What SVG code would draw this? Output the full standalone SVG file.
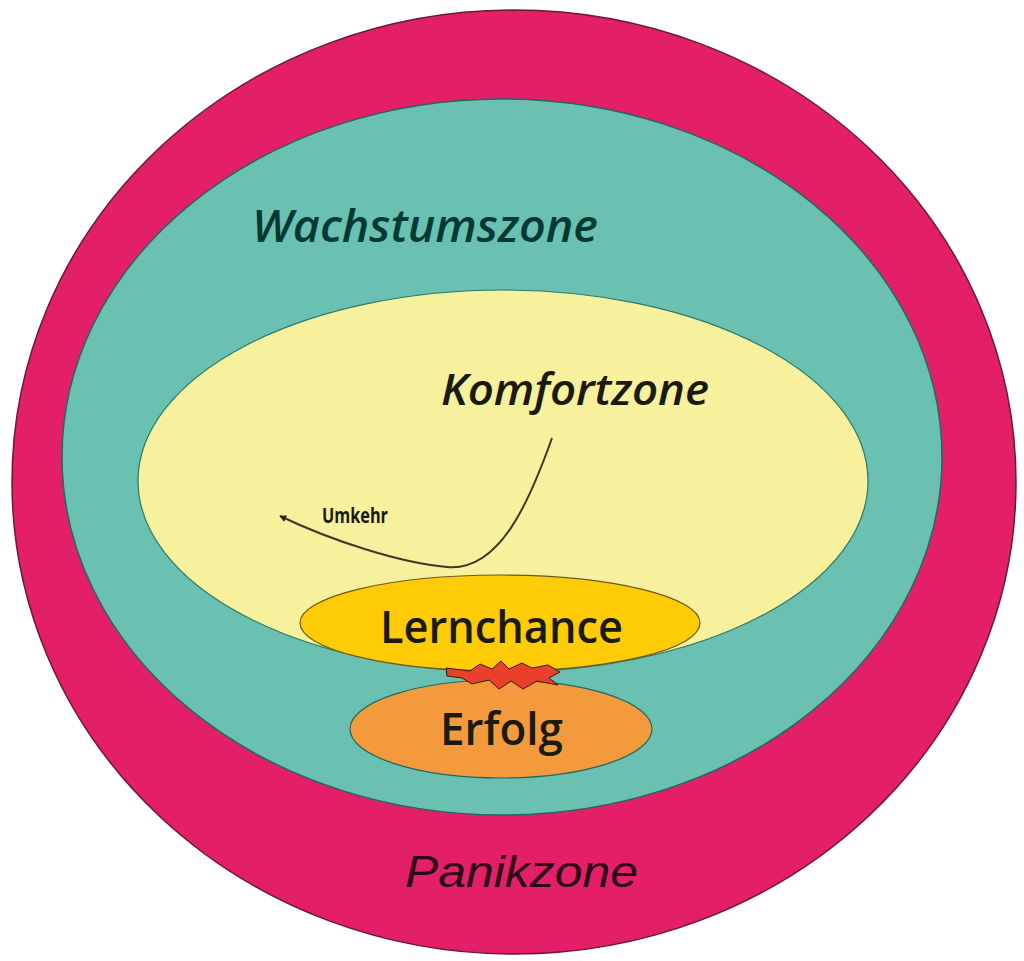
<svg xmlns="http://www.w3.org/2000/svg" width="1024" height="961" viewBox="0 0 1024 961">
<style>
.zone{font-family:"Open Sans","DejaVu Sans",sans-serif;font-style:italic;font-weight:600}
.lbl{font-family:"Open Sans","DejaVu Sans",sans-serif;font-weight:600;fill:#1a1a10}
</style>
<defs>
<marker id="ah" viewBox="0 0 10 10" refX="9" refY="5" markerWidth="7" markerHeight="7" orient="auto-start-reverse" markerUnits="userSpaceOnUse">
<path d="M0,0 L10,5 L0,10 z" fill="#2a2a1a"/>
</marker>
</defs>
<rect width="1024" height="961" fill="#ffffff"/>
<g id="panikzone">
<ellipse cx="514" cy="482" rx="502" ry="472" fill="#e31f68" stroke="#6a1836" stroke-width="1.5"/>
<text class="zone" x="405" y="887" font-family="Liberation Sans" style="font-family:'Liberation Sans',Arial,sans-serif;font-weight:400" font-size="44" fill="#2a0816" textLength="233" lengthAdjust="spacingAndGlyphs">Panikzone</text>
</g>
<g id="wachstumszone">
<ellipse cx="502" cy="457" rx="440" ry="358" fill="#6bc1b1" stroke="#1f6a60" stroke-width="1.5"/>
<text class="zone" x="252" y="242" font-size="46" fill="#003a32" textLength="346" lengthAdjust="spacingAndGlyphs">Wachstumszone</text>
</g>
<g id="komfortzone">
<ellipse cx="503" cy="481" rx="365" ry="191" fill="#f7f09c" stroke="#2a7a6a" stroke-width="1.2"/>
<text class="zone" x="441" y="405" font-size="44" fill="#1a1a10" textLength="268" lengthAdjust="spacingAndGlyphs">Komfortzone</text>
</g>
<g id="connectors">
<path d="M552,438 C530,500 500,572 447,567 C400,563 330,540 280,516" fill="none" stroke="#3a3a28" stroke-width="2" marker-end="url(#ah)"/>
<text x="322" y="523" font-family="'Open Sans','DejaVu Sans',sans-serif" font-weight="700" font-size="21" fill="#1a1a10" textLength="66" lengthAdjust="spacingAndGlyphs">Umkehr</text>
</g>
<g id="erfolg">
<ellipse cx="501" cy="729" rx="151" ry="49" fill="#f39a3c" stroke="#1f6a60" stroke-width="1.2"/>
<text class="lbl" x="440" y="745" font-size="45" textLength="123" lengthAdjust="spacingAndGlyphs">Erfolg</text>
</g>
<g id="lernchance">
<ellipse cx="500" cy="623" rx="200" ry="48" fill="#fdcc06" stroke="#6a5a20" stroke-width="1.2"/>
<text class="lbl" x="380" y="643" font-size="45" textLength="243" lengthAdjust="spacingAndGlyphs">Lernchance</text>
</g>
<g id="spark">
<path d="M446,668 L470,671 L480,664 L492,669 L501,661 L509,669 L522,663 L532,668 L548,665 L560,672 L549,678 L558,685 L537,681 L523,689 L511,681 L499,689 L489,680 L472,684 L462,678 L447,676 Z" fill="#e8402a" stroke="#3a1a10" stroke-width="1"/>
</g>
</svg>
